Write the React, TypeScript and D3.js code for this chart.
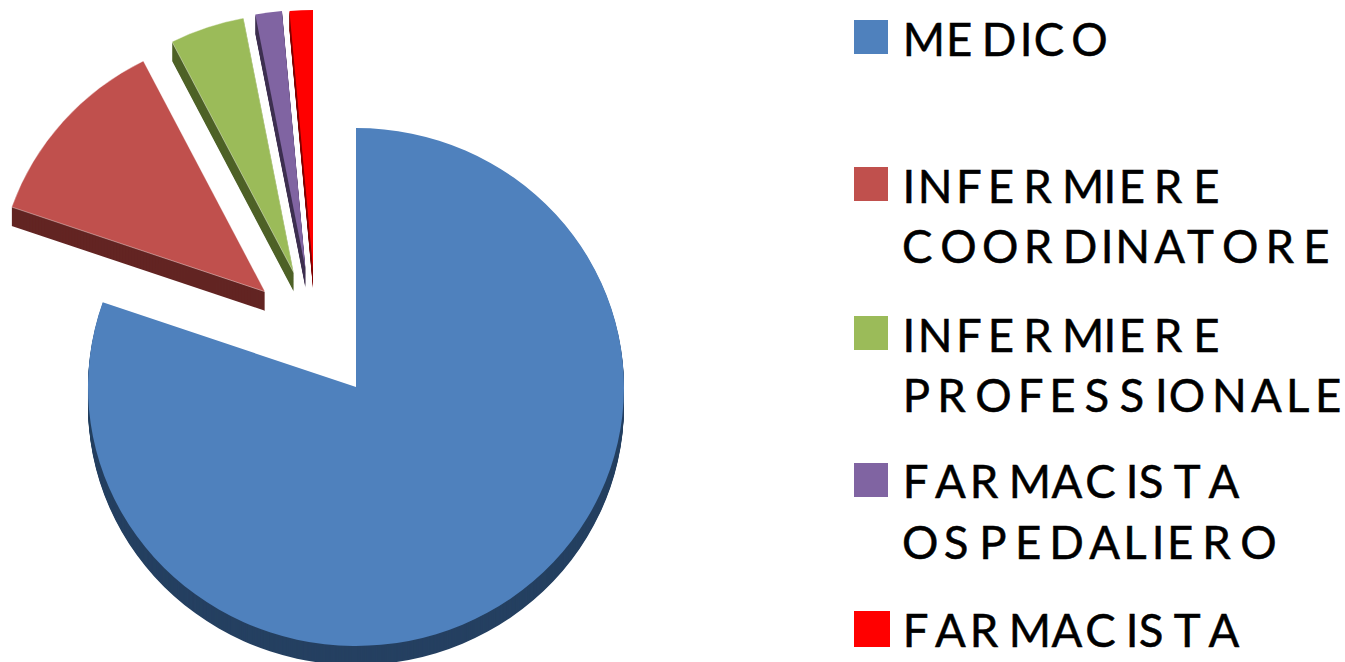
import React from "react";
import * as d3 from "d3";

const WIDTH = 1345;
const HEIGHT = 662;

// Pie data (percent)
const CATEGORIES = [
  "MEDICO",
  "INFERMIERE COORDINATORE",
  "INFERMIERE PROFESSIONALE",
  "FARMACISTA OSPEDALIERO",
  "FARMACISTA",
];
const VALUES = [80.3, 12.2, 4.5, 1.6, 1.4];

const COLORS = ["#4F81BD", "#C0504D", "#9BBB59", "#8064A2", "#FF0000"];
const DARK_COLORS = ["#254061", "#632523", "#4F6228", "#3F3151", "#800000"];

// Pie geometry
const CENTER_X = 356;
const CENTER_Y = 387;
const RADIUS = 268;
const TILT = 259 / 268;
const DEPTH = 19;
// how far each slice has been pulled out of the pie
const EXPLODE = [
  [0, 0],
  [-91, -95.3],
  [-62.3, -114.5],
  [-50.5, -118],
  [-43, -118],
];
const OUTLINED = [false, true, true, false, false];

// Legend layout
const SWATCH_X = 854;
const SWATCH_Y = [20, 167, 316, 463, 611];
const SWATCH_SIZE = [34, 34, 34, 34, 36];
const FONT_SIZE = 45.5;
const LINE_BASELINES = [[56], [202.7, 263], [351.7, 411.7], [498.3, 559], [646.7]];
const LINE_TEXT = [
  ["MEDICO"],
  ["INFERMIERE", "COORDINATORE"],
  ["INFERMIERE", "PROFESSIONALE"],
  ["FARMACISTA", "OSPEDALIERO"],
  ["FARMACISTA"],
];

// The source spaces its letters unevenly: left ink edge of each letter
const INK_LEFT: Record<string, number[]> = {
  MEDICO: [906.7, 950, 985.7, 1024, 1036.7, 1074.3],
  INFERMIERE: [906.7, 921.7, 960, 991.7, 1027.7, 1066, 1107.7, 1122.7, 1158.3, 1197.3],
  COORDINATORE: [905, 943.3, 985, 1028.3, 1066.7, 1105, 1119.3, 1155, 1188.3, 1225, 1270, 1307.3],
  PROFESSIONALE: [906.7, 941.7, 978.3, 1021.7, 1053.3, 1086.7, 1121.7, 1159.3, 1171.7, 1216, 1251.7, 1290, 1319],
  FARMACISTA: [906.7, 935.7, 974.3, 1012.7, 1052.3, 1088.3, 1130, 1141, 1175, 1209.3],
  OSPEDALIERO: [905, 946, 983.3, 1019, 1053.3, 1090, 1127.3, 1156, 1171, 1206.7, 1243.3],
};
const BEARING: Record<string, number> = {
  M: 4, E: 4, D: 4, I: 4.3, N: 4, F: 4, R: 4.5, P: 4, L: 4,
  C: 3, O: 3, S: 2.2, A: 0.8, T: 1.2,
};

const glyphX = (word: string) =>
  word
    .split("")
    .map((ch, i) => (INK_LEFT[word][i] - BEARING[ch]).toFixed(1))
    .join(" ");

export default function App() {
  const pie = d3
    .pie<number>()
    .sort(null)
    .value((d) => d);
  const slices = pie(VALUES);

  const arc = d3.arc<d3.PieArcDatum<number>>().innerRadius(0).outerRadius(RADIUS);
  const wallSteps = d3.range(DEPTH, 0, -1);

  return (
    <div style={{ position: "absolute", left: 0, top: 0 }}>
      <svg width={WIDTH} height={HEIGHT} style={{ display: "block" }}>
        {slices.map((slice, i) => {
          const x = CENTER_X + EXPLODE[i][0];
          const y = CENTER_Y + EXPLODE[i][1];
          const path = arc(slice) || "";
          return (
            <g key={CATEGORIES[i]}>
              {/* side wall: the slice repeated downwards in the dark colour */}
              {wallSteps.map((step) => (
                <path
                  key={step}
                  d={path}
                  transform={`translate(${x},${y + step}) scale(1,${TILT})`}
                  fill={DARK_COLORS[i]}
                />
              ))}
              <path
                d={path}
                transform={`translate(${x},${y}) scale(1,${TILT})`}
                fill={COLORS[i]}
                stroke={OUTLINED[i] ? "#ffffff" : "none"}
                strokeOpacity={0.6}
                strokeWidth={0.7}
              />
            </g>
          );
        })}

        {LINE_TEXT.map((lines, i) => (
          <g key={CATEGORIES[i]}>
            <rect
              x={SWATCH_X}
              y={SWATCH_Y[i]}
              width={SWATCH_SIZE[i]}
              height={SWATCH_SIZE[i]}
              fill={COLORS[i]}
            />
            {lines.map((word, j) => (
              <text
                key={word}
                x={glyphX(word)}
                y={LINE_BASELINES[i][j]}
                fontFamily="Lato, 'Open Sans', sans-serif"
                fontSize={FONT_SIZE}
                fill="#000000"
                stroke="#000000"
                strokeWidth={0.5}
              >
                {word}
              </text>
            ))}
          </g>
        ))}
      </svg>
    </div>
  );
}
